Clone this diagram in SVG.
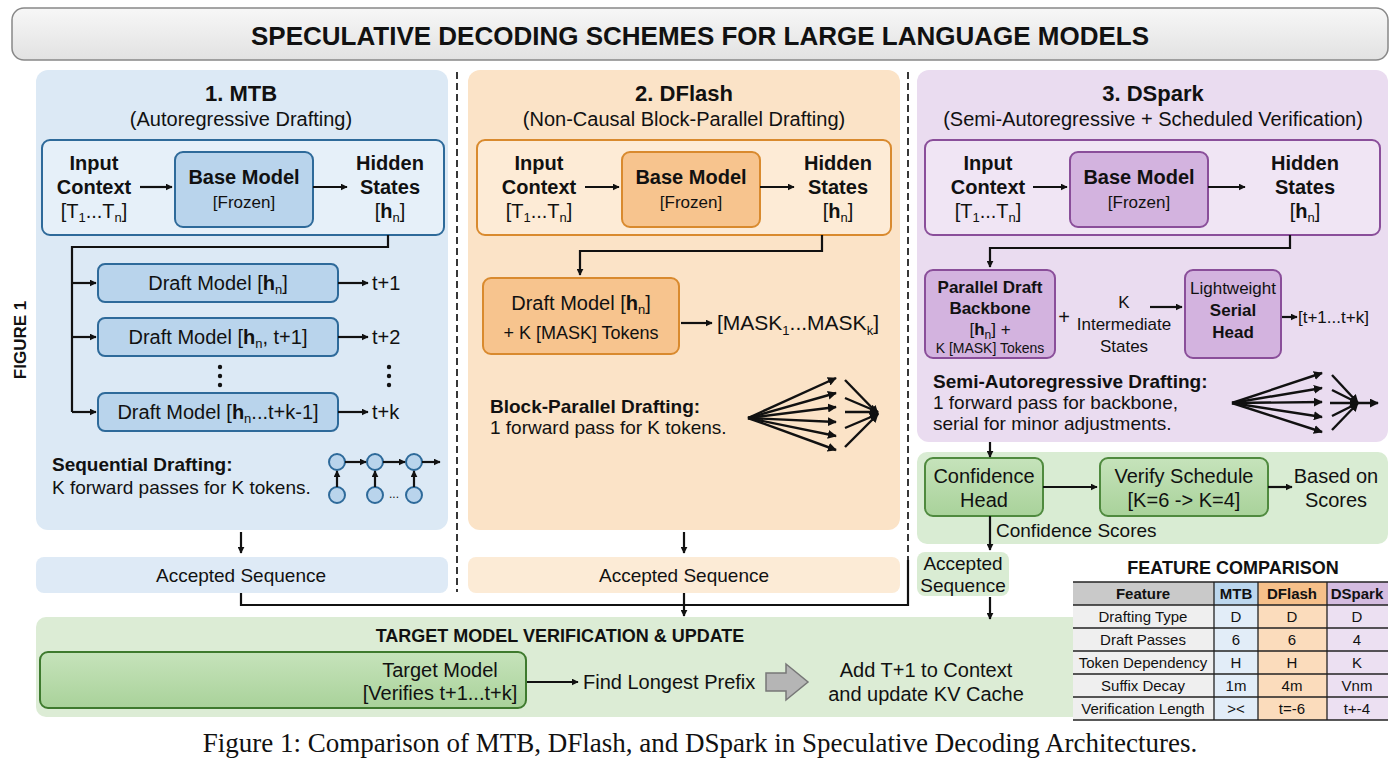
<svg xmlns="http://www.w3.org/2000/svg" width="1400" height="764" viewBox="0 0 1400 764">
<defs>
<marker id="ah" viewBox="0 0 10 10" refX="9" refY="5" markerWidth="7" markerHeight="7" markerUnits="userSpaceOnUse" orient="auto"><path d="M0,0 L10,5 L0,10 z" fill="#111"/></marker>
<marker id="ah2" viewBox="0 0 10 10" refX="9" refY="5" markerWidth="9" markerHeight="9" markerUnits="userSpaceOnUse" orient="auto"><path d="M0,0 L10,5 L0,10 z" fill="#111"/></marker>
<linearGradient id="tg" x1="0" y1="0" x2="0" y2="1"><stop offset="0" stop-color="#f7f7f7"/><stop offset="1" stop-color="#e2e2e2"/></linearGradient>
<linearGradient id="gg" x1="0" y1="0" x2="0" y2="1"><stop offset="0" stop-color="#c6e3bb"/><stop offset="1" stop-color="#a9d29a"/></linearGradient>
</defs>
<style>
text{font-family:"Liberation Sans",Arial,sans-serif;fill:#111}
.b{font-weight:bold}
.c{text-anchor:middle}
.t19{font-size:20px}
.t17{font-size:17px}
.t18{font-size:19px}
.ln{fill:none;stroke:#111;stroke-width:2.2}
.ar{fill:none;stroke:#111;stroke-width:2.2;marker-end:url(#ah)}
.fan{fill:none;stroke:#111;stroke-width:2.4;marker-end:url(#ah2)}
.sep{stroke:#222;stroke-width:1.8;stroke-dasharray:7,4}
</style>
<rect x="0" y="0" width="1400" height="764" fill="#fff"/>
<g id="title">
<rect x="12" y="8" width="1376" height="52" rx="12" fill="url(#tg)" stroke="#888" stroke-width="1.5"/>
<text x="700" y="45" class="b c" font-size="26">SPECULATIVE DECODING SCHEMES FOR LARGE LANGUAGE MODELS</text>
</g>
<text x="26" y="340" class="b c" font-size="17" transform="rotate(-90 26 340)">FIGURE 1</text>

<g id="mtb">
<rect x="36" y="70" width="412" height="460" rx="12" fill="#dce9f5"/>
<text x="241" y="101" class="b c" font-size="22">1. MTB</text>
<text x="241" y="126" class="c" font-size="20">(Autoregressive Drafting)</text>
<rect x="42" y="140" width="402" height="95" rx="8" fill="#e6f0f9" stroke="#2e6a9a" stroke-width="2"/>
<text x="94" y="170" class="b c t19">Input</text><text x="94" y="194" class="b c t19">Context</text>
<text x="94" y="218" class="c t19">[T<tspan font-size="13" dy="4">1</tspan><tspan dy="-4">...T</tspan><tspan font-size="13" dy="4">n</tspan><tspan dy="-4">]</tspan></text>
<rect x="175" y="152" width="138" height="75" rx="8" fill="#b9d4ec" stroke="#2e6a9a" stroke-width="2"/>
<text x="244" y="184" class="b c t19">Base Model</text><text x="244" y="208" class="c t17">[Frozen]</text>
<text x="390" y="170" class="b c t19">Hidden</text><text x="390" y="194" class="b c t19">States</text>
<text x="390" y="218" class="c t19">[<tspan class="b">h</tspan><tspan font-size="13" dy="4">n</tspan><tspan dy="-4">]</tspan></text>
<rect x="98" y="264" width="240" height="38" rx="7" fill="#b9d4ec" stroke="#2e6a9a" stroke-width="2"/>
<text x="218" y="290" class="c t19">Draft Model [<tspan class="b">h</tspan><tspan font-size="13" dy="4">n</tspan><tspan dy="-4">]</tspan></text>
<rect x="98" y="318" width="240" height="38" rx="7" fill="#b9d4ec" stroke="#2e6a9a" stroke-width="2"/>
<text x="218" y="344" class="c t19">Draft Model [<tspan class="b">h</tspan><tspan font-size="13" dy="4">n</tspan><tspan dy="-4">, t+1]</tspan></text>
<rect x="98" y="393" width="240" height="38" rx="7" fill="#b9d4ec" stroke="#2e6a9a" stroke-width="2"/>
<text x="218" y="419" class="c t19">Draft Model [<tspan class="b">h</tspan><tspan font-size="13" dy="4">n</tspan><tspan dy="-4">...t+k-1]</tspan></text>
<text x="372" y="290" class="t19">t+1</text><text x="372" y="344" class="t19">t+2</text><text x="372" y="419" class="t19">t+k</text>
<g fill="#111"><circle cx="220" cy="367" r="2.2"/><circle cx="220" cy="376" r="2.2"/><circle cx="220" cy="385" r="2.2"/>
<circle cx="389" cy="367" r="2.2"/><circle cx="389" cy="376" r="2.2"/><circle cx="389" cy="385" r="2.2"/></g>
<text x="52" y="471" class="b t18">Sequential Drafting:</text>
<text x="52" y="494" class="t18">K forward passes for K tokens.</text>
<g fill="#b9d4ec" stroke="#2e6a9a" stroke-width="2">
<circle cx="337" cy="462" r="8"/><circle cx="375" cy="462" r="8"/><circle cx="414" cy="462" r="8"/>
<circle cx="337" cy="495" r="8"/><circle cx="375" cy="495" r="8"/><circle cx="414" cy="495" r="8"/></g>
<text x="394" y="498" font-size="12" class="c">...</text>
</g>

<g id="dflash">
<rect x="468" y="70" width="432" height="460" rx="12" fill="#fbe3c7"/>
<text x="684" y="101" class="b c" font-size="22">2. DFlash</text>
<text x="684" y="126" class="c" font-size="20">(Non-Causal Block-Parallel Drafting)</text>
<rect x="477" y="140" width="414" height="95" rx="8" fill="#fdebd6" stroke="#d98a2e" stroke-width="2"/>
<text x="539" y="170" class="b c t19">Input</text><text x="539" y="194" class="b c t19">Context</text>
<text x="539" y="218" class="c t19">[T<tspan font-size="13" dy="4">1</tspan><tspan dy="-4">...T</tspan><tspan font-size="13" dy="4">n</tspan><tspan dy="-4">]</tspan></text>
<rect x="622" y="152" width="138" height="75" rx="8" fill="#f7c48e" stroke="#d98a2e" stroke-width="2"/>
<text x="691" y="184" class="b c t19">Base Model</text><text x="691" y="208" class="c t17">[Frozen]</text>
<text x="838" y="170" class="b c t19">Hidden</text><text x="838" y="194" class="b c t19">States</text>
<text x="838" y="218" class="c t19">[<tspan class="b">h</tspan><tspan font-size="13" dy="4">n</tspan><tspan dy="-4">]</tspan></text>
<rect x="483" y="278" width="196" height="76" rx="8" fill="#f7c48e" stroke="#d98a2e" stroke-width="2"/>
<text x="581" y="310" class="c t19">Draft Model [<tspan class="b">h</tspan><tspan font-size="13" dy="4">n</tspan><tspan dy="-4">]</tspan></text>
<text x="581" y="339" class="c" font-size="18">+ K [MASK] Tokens</text>
<text x="717" y="330" font-size="21">[MASK<tspan font-size="13" dy="5">1</tspan><tspan dy="-5">...MASK</tspan><tspan font-size="13" dy="5">k</tspan><tspan dy="-5">]</tspan></text>
<text x="490" y="413" class="b t18">Block-Parallel Drafting:</text>
<text x="490" y="434" class="t18">1 forward pass for K tokens.</text>
</g>

<g id="dspark">
<rect x="917" y="70" width="471" height="372" rx="12" fill="#eadcf0"/>
<text x="1153" y="101" class="b c" font-size="22">3. DSpark</text>
<text x="1153" y="126" class="c" font-size="20">(Semi-Autoregressive + Scheduled Verification)</text>
<rect x="925" y="140" width="455" height="95" rx="8" fill="#f0e5f4" stroke="#8a4e9a" stroke-width="2"/>
<text x="988" y="170" class="b c t19">Input</text><text x="988" y="194" class="b c t19">Context</text>
<text x="988" y="218" class="c t19">[T<tspan font-size="13" dy="4">1</tspan><tspan dy="-4">...T</tspan><tspan font-size="13" dy="4">n</tspan><tspan dy="-4">]</tspan></text>
<rect x="1070" y="152" width="138" height="75" rx="8" fill="#d3b3df" stroke="#8a4e9a" stroke-width="2"/>
<text x="1139" y="184" class="b c t19">Base Model</text><text x="1139" y="208" class="c t17">[Frozen]</text>
<text x="1305" y="170" class="b c t19">Hidden</text><text x="1305" y="194" class="b c t19">States</text>
<text x="1305" y="218" class="c t19">[<tspan class="b">h</tspan><tspan font-size="13" dy="4">n</tspan><tspan dy="-4">]</tspan></text>
<rect x="925" y="270" width="130" height="88" rx="8" fill="#d3b3df" stroke="#8a4e9a" stroke-width="2"/>
<text x="990" y="293" class="b c t17">Parallel Draft</text>
<text x="990" y="314" class="b c t17">Backbone</text>
<text x="990" y="335" class="c t17">[<tspan class="b">h</tspan><tspan font-size="12" dy="4">n</tspan><tspan dy="-4">] +</tspan></text>
<text x="990" y="353" class="c" font-size="14">K [MASK] Tokens</text>
<text x="1064" y="324" class="c" font-size="20">+</text>
<text x="1124" y="308" class="c t17">K</text>
<text x="1124" y="330" class="c t17">Intermediate</text>
<text x="1124" y="352" class="c t17">States</text>
<rect x="1185" y="270" width="96" height="88" rx="8" fill="#d3b3df" stroke="#8a4e9a" stroke-width="2"/>
<text x="1233" y="294" class="c t17">Lightweight</text>
<text x="1233" y="316" class="b c t17">Serial</text>
<text x="1233" y="338" class="b c t17">Head</text>
<text x="1298" y="323" class="t17">[t+1...t+k]</text>
<text x="933" y="388" class="b t18">Semi-Autoregressive Drafting:</text>
<text x="933" y="409" class="t18">1 forward pass for backbone,</text>
<text x="933" y="430" class="t18">serial for minor adjustments.</text>
</g>

<g id="confidence">
<rect x="917" y="452" width="471" height="92" rx="10" fill="#d9ecd3"/>
<rect x="925" y="458" width="118" height="58" rx="8" fill="url(#gg)" stroke="#4f8a3e" stroke-width="2"/>
<text x="984" y="483" class="c t19">Confidence</text><text x="984" y="507" class="c t19">Head</text>
<rect x="1100" y="458" width="168" height="58" rx="8" fill="url(#gg)" stroke="#4f8a3e" stroke-width="2"/>
<text x="1184" y="483" class="c t19">Verify Schedule</text><text x="1184" y="507" class="c t19">[K=6 -&gt; K=4]</text>
<text x="1336" y="483" class="c t19">Based on</text><text x="1336" y="507" class="c t19">Scores</text>
<text x="996" y="537" class="t18">Confidence Scores</text>
</g>
<g id="acc3">
<rect x="917" y="552" width="92" height="44" rx="8" fill="#d9ecd3"/>
<text x="963" y="570" class="c t18">Accepted</text><text x="963" y="592" class="c t18">Sequence</text>
</g>
<g id="acc1"><rect x="36" y="557" width="412" height="36" rx="8" fill="#deeaf6"/><text x="241" y="582" class="c t18">Accepted Sequence</text></g>
<g id="acc2"><rect x="468" y="557" width="432" height="36" rx="8" fill="#fcebd6"/><text x="684" y="582" class="c t18">Accepted Sequence</text></g>

<g id="target">
<rect x="36" y="617" width="1050" height="100" rx="10" fill="#dcecd5"/>
<text x="560" y="642" class="b c" font-size="18">TARGET MODEL VERIFICATION &amp; UPDATE</text>
<rect x="40" y="652" width="486" height="56" rx="8" fill="url(#gg)" stroke="#3e7a2e" stroke-width="2"/>
<text x="440" y="677" class="c t19">Target Model</text><text x="440" y="700" class="c t19">[Verifies t+1...t+k]</text>
<text x="583" y="689" class="t19">Find Longest Prefix</text>
<path d="M766,673 h20 v-9 l22,18 l-22,18 v-9 h-20 z" fill="#b5b5b5" stroke="#777" stroke-width="1.5"/>
<text x="926" y="677" class="c t19">Add T+1 to Context</text><text x="926" y="701" class="c t19">and update KV Cache</text>
</g>

<g id="table" font-size="15">
<text x="1233" y="574" class="b c" font-size="18">FEATURE COMPARISON</text>
<rect x="1073" y="582" width="141" height="23" fill="#c9c9c9"/>
<rect x="1214" y="582" width="44" height="23" fill="#bcd7ee"/>
<rect x="1258" y="582" width="69" height="23" fill="#f6c08a"/>
<rect x="1327" y="582" width="61" height="23" fill="#d4bce0"/>
<rect x="1073" y="605" width="141" height="115" fill="#efefef"/>
<rect x="1214" y="605" width="44" height="115" fill="#e2edf8"/>
<rect x="1258" y="605" width="69" height="115" fill="#fbdcbc"/>
<rect x="1327" y="605" width="61" height="115" fill="#ece0f2"/>
<g stroke="#222" stroke-width="1.3">
<line x1="1073" y1="582" x2="1388" y2="582"/><line x1="1073" y1="605" x2="1388" y2="605"/>
<line x1="1073" y1="628" x2="1388" y2="628"/><line x1="1073" y1="651" x2="1388" y2="651"/>
<line x1="1073" y1="674" x2="1388" y2="674"/><line x1="1073" y1="697" x2="1388" y2="697"/>
<line x1="1073" y1="720" x2="1388" y2="720"/>
<line x1="1214" y1="582" x2="1214" y2="720"/><line x1="1258" y1="582" x2="1258" y2="720"/><line x1="1327" y1="582" x2="1327" y2="720"/>
</g>
<text x="1143" y="599" class="b c">Feature</text><text x="1236" y="599" class="b c">MTB</text><text x="1292" y="599" class="b c">DFlash</text><text x="1357" y="599" class="b c">DSpark</text>
<text x="1143" y="622" class="c">Drafting Type</text><text x="1236" y="622" class="c">D</text><text x="1292" y="622" class="c">D</text><text x="1357" y="622" class="c">D</text>
<text x="1143" y="645" class="c">Draft Passes</text><text x="1236" y="645" class="c">6</text><text x="1292" y="645" class="c">6</text><text x="1357" y="645" class="c">4</text>
<text x="1143" y="668" class="c">Token Dependency</text><text x="1236" y="668" class="c">H</text><text x="1292" y="668" class="c">H</text><text x="1357" y="668" class="c">K</text>
<text x="1143" y="691" class="c">Suffix Decay</text><text x="1236" y="691" class="c">1m</text><text x="1292" y="691" class="c">4m</text><text x="1357" y="691" class="c">Vnm</text>
<text x="1143" y="714" class="c">Verification Length</text><text x="1236" y="714" class="c">&gt;&lt;</text><text x="1292" y="714" class="c">t=-6</text><text x="1357" y="714" class="c">t+-4</text>
</g>

<g id="connectors">
<line x1="457" y1="72" x2="457" y2="592" class="sep"/>
<line x1="908" y1="72" x2="908" y2="560" class="sep"/>
<path d="M140,187 H172" class="ar"/><path d="M313,187 H347" class="ar"/>
<path d="M388,235 V247 H72 V412" class="ln"/>
<path d="M72,283 H96" class="ar"/><path d="M72,337 H96" class="ar"/><path d="M72,412 H96" class="ar"/>
<path d="M338,283 H368" class="ar"/><path d="M338,337 H368" class="ar"/><path d="M338,412 H368" class="ar"/>
<path d="M345,462 H366" class="ar"/><path d="M383,462 H405" class="ar"/><path d="M422,462 H440" class="ar"/>
<path d="M337,487 V471" class="ar"/><path d="M375,487 V471" class="ar"/><path d="M414,487 V471" class="ar"/>
<path d="M241,532 V553" class="ar"/>
<path d="M585,187 H619" class="ar"/><path d="M760,187 H794" class="ar"/>
<path d="M822,235 V251 H580 V275" class="ar"/>
<path d="M681,323 H712" class="ar"/>
<path d="M748,418 L836,378" class="fan"/><path d="M748,418 L836,393" class="fan"/><path d="M748,418 L836,407" class="fan"/>
<path d="M748,418 L836,422" class="fan"/><path d="M748,418 L836,436" class="fan"/><path d="M748,418 L836,450" class="fan"/>
<path d="M845,380 L878,414" class="fan"/><path d="M845,398 L878,412" class="fan"/><path d="M845,412 L878,412" class="fan"/>
<path d="M845,428 L878,414" class="fan"/><path d="M845,447 L878,414" class="fan"/>
<path d="M684,532 V553" class="ar"/>
<path d="M1033,187 H1067" class="ar"/><path d="M1208,187 H1245" class="ar"/>
<path d="M1290,235 V248 H990 V267" class="ar"/>
<path d="M1150,307 H1182" class="ar"/><path d="M1282,317 H1297" class="ar"/>
<path d="M1232,403 L1322,373" class="fan"/><path d="M1232,403 L1322,388" class="fan"/><path d="M1232,403 L1322,402" class="fan"/>
<path d="M1232,403 L1322,417" class="fan"/><path d="M1232,403 L1322,432" class="fan"/>
<path d="M1332,375 L1358,403" class="fan"/><path d="M1332,390 L1358,403" class="fan"/><path d="M1332,416 L1358,403" class="fan"/><path d="M1332,430 L1358,403" class="fan"/>
<path d="M1330,403 H1378" class="fan"/>
<path d="M990,442 V457" class="ar"/>
<path d="M1043,487 H1097" class="ar"/><path d="M1268,487 H1292" class="ar"/>
<path d="M990,516 V550" class="ar"/>
<path d="M990,597 V619" class="ar"/>
<path d="M241,593 V605 H908 V560" class="ln"/>
<path d="M684,593 V616" class="ar"/>
<path d="M527,682 H578" class="ar"/>
</g>
<text x="700" y="752" class="c" font-size="27" style="font-family:'Liberation Serif','Times New Roman',serif">Figure 1: Comparison of MTB, DFlash, and DSpark in Speculative Decoding Architectures.</text>
</svg>
